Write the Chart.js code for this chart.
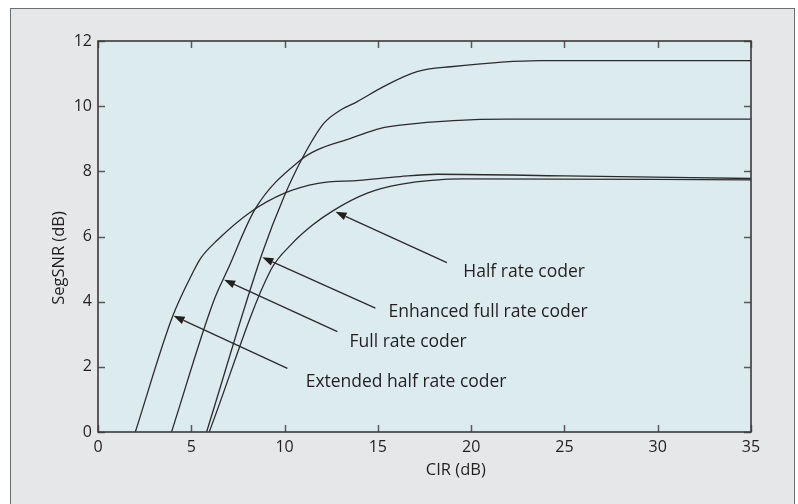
<!DOCTYPE html>
<html>
<head>
<meta charset="utf-8">
<script src="https://cdn.jsdelivr.net/npm/chart.js@4.4.1/dist/chart.umd.min.js"></script>
<style>
  html, body { margin: 0; padding: 0; background: #ffffff; }
  #frame { position: absolute; left: 10px; top: 8px; width: 783px; height: 520px;
           border: 1px solid #6d6e70; background: #e6e7e8; }
  #wrap { position: absolute; left: 0; top: 0; width: 798px; height: 504px; }
</style>
</head>
<body>
<div id="frame"></div>
<div id="wrap"><canvas id="chart"></canvas></div>
<script>
// ------------------ //
//  DATA              //
// ------------------ //

// Axis ticks and titles
const cirTicks = [0, 5, 10, 15, 20, 25, 30, 35];
const snrTicks = [0, 2, 4, 6, 8, 10, 12];
const cirTitle = "CIR (dB)";
const snrTitle = "SegSNR (dB)";

// Extended half rate coder
const extHalfCir = [2.0, 4.0, 5.15, 5.5, 6.4, 8.2, 10.0, 11.8, 14.0, 16.2, 18.2, 25.0, 35.0];
const extHalfSnr = [0.0, 3.55, 4.97, 5.33, 5.89, 6.76, 7.33, 7.63, 7.72, 7.84, 7.91, 7.86, 7.78];

// Full rate coder
const fullCir = [3.94, 6.22, 6.94, 8.45, 10.86, 11.75, 13.54, 15.14, 16.2, 21.9, 35.0];
const fullSnr = [0.0, 4.05, 4.97, 6.87, 8.35, 8.66, 9.01, 9.32, 9.42, 9.6, 9.6];

// Enhanced full rate coder
const enhFullCir = [5.82, 8.81, 9.97, 10.95, 12.1, 13.0, 13.9, 15.3, 17.1, 18.9, 23.7, 35.0];
const enhFullSnr = [0.0, 5.5, 7.22, 8.4, 9.47, 9.88, 10.14, 10.6, 11.06, 11.21, 11.4, 11.4];

// Half rate coder
const halfCir = [5.96, 9.26, 10.4, 11.5, 12.65, 14.43, 16.2, 19.6, 35.0];
const halfSnr = [0.0, 4.97, 5.78, 6.35, 6.81, 7.33, 7.6, 7.77, 7.74];

// Callouts: label text, label anchor (CIR, SegSNR), arrow tail and arrow tip
const noteText = ["Half rate coder", "Enhanced full rate coder", "Full rate coder", "Extended half rate coder"];
const noteAt   = [[19.58, 4.91], [15.57, 3.68], [13.48, 2.76], [11.13, 1.53]];
const noteTail = [[18.7, 5.2], [14.87, 3.8], [12.83, 3.08], [10.15, 1.95]];
const noteTip  = [[12.73, 6.76], [8.81, 5.36], [6.76, 4.67], [4.05, 3.57]];

// ------------------ //
//  HELPER FUNCTIONS  //
// ------------------ //

const inkColor = "#231f20";
const plotFill = "#dcebee";
const fontFamily = "'Open Sans', 'Noto Sans', sans-serif";

// Zips two arrays into {x, y} points
function toPoints(xs, ys) {
  return xs.map(function (v, i) { return { x: v, y: ys[i] }; });
}

// Builds one black curve dataset
function curve(label, xs, ys) {
  return {
    label: label,
    data: toPoints(xs, ys),
    borderColor: "#2b2b2b",
    borderWidth: 1.3,
    pointRadius: 0,
    cubicInterpolationMode: "monotone",
    fill: false
  };
}

// Draws a line with a filled triangle head at the tip
function drawArrow(ctx, x0, y0, x1, y1) {
  var ang = Math.atan2(y1 - y0, x1 - x0);
  var len = 11, half = 4;
  var bx = x1 - len * Math.cos(ang), by = y1 - len * Math.sin(ang);
  ctx.beginPath();
  ctx.moveTo(x0, y0);
  ctx.lineTo(bx, by);
  ctx.stroke();
  ctx.beginPath();
  ctx.moveTo(x1, y1);
  ctx.lineTo(bx + half * Math.sin(ang), by - half * Math.cos(ang));
  ctx.lineTo(bx - half * Math.sin(ang), by + half * Math.cos(ang));
  ctx.closePath();
  ctx.fill();
}

// Plot background, inward ticks, frame, axis titles and callouts
const decorations = {
  id: "decorations",
  beforeDatasetsDraw(chart) {
    const { ctx, chartArea: a } = chart;
    ctx.save();
    ctx.fillStyle = plotFill;
    ctx.fillRect(a.left, a.top, a.right - a.left, a.bottom - a.top);
    ctx.restore();
  },
  afterDatasetsDraw(chart) {
    const { ctx, chartArea: a, scales: { x, y } } = chart;
    const tl = 7;
    ctx.save();

    // tick marks pointing into the plot on all four sides
    ctx.strokeStyle = "#58595b";
    ctx.lineWidth = 1.5;
    ctx.beginPath();
    cirTicks.forEach(function (v) {
      var px = Math.round(x.getPixelForValue(v)) + 0.5;
      ctx.moveTo(px, a.bottom); ctx.lineTo(px, a.bottom - tl);
      ctx.moveTo(px, a.top); ctx.lineTo(px, a.top + tl);
    });
    snrTicks.forEach(function (v) {
      var py = Math.round(y.getPixelForValue(v)) + 0.5;
      ctx.moveTo(a.left, py); ctx.lineTo(a.left + tl, py);
      ctx.moveTo(a.right, py); ctx.lineTo(a.right - tl, py);
    });
    ctx.stroke();

    // plot frame
    ctx.strokeStyle = "#3a3a3a";
    ctx.lineWidth = 1.6;
    ctx.strokeRect(a.left, a.top, a.right - a.left, a.bottom - a.top);

    // callout arrows and labels
    ctx.strokeStyle = "#2b2b2b";
    ctx.fillStyle = "#231f20";
    ctx.lineWidth = 1.3;
    for (var i = 0; i < noteText.length; i++) {
      drawArrow(ctx,
        x.getPixelForValue(noteTail[i][0]), y.getPixelForValue(noteTail[i][1]),
        x.getPixelForValue(noteTip[i][0]), y.getPixelForValue(noteTip[i][1]));
    }
    ctx.fillStyle = inkColor;
    ctx.font = "17.5px " + fontFamily;
    ctx.textAlign = "left";
    ctx.textBaseline = "middle";
    for (var j = 0; j < noteText.length; j++) {
      ctx.fillText(noteText[j], x.getPixelForValue(noteAt[j][0]), y.getPixelForValue(noteAt[j][1]));
    }

    // axis titles (sit a little off-centre in the original)
    ctx.font = "16.5px " + fontFamily;
    ctx.textAlign = "center";
    ctx.fillText(cirTitle, a.left + 0.548 * (a.right - a.left), 470);
    ctx.translate(59, a.top + 0.555 * (a.bottom - a.top));
    ctx.rotate(-Math.PI / 2);
    ctx.fillText(snrTitle, 0, 0);
    ctx.restore();
  }
};

// ----------- //
//  CHART      //
// ----------- //

const ctx = document.getElementById("chart");
new Chart(ctx, {
  type: "line",
  data: {
    datasets: [
      curve("Extended half rate coder", extHalfCir, extHalfSnr),
      curve("Full rate coder", fullCir, fullSnr),
      curve("Enhanced full rate coder", enhFullCir, enhFullSnr),
      curve("Half rate coder", halfCir, halfSnr)
    ]
  },
  options: {
    responsive: true,
    maintainAspectRatio: false,
    animation: false,
    layout: { padding: { left: 0, top: 41, right: 47, bottom: 0 } },
    plugins: {
      legend: { display: false },
      tooltip: { enabled: false }
    },
    scales: {
      x: {
        type: "linear",
        min: 0,
        max: 35,
        afterBuildTicks: function (scale) {
          scale.ticks = cirTicks.map(function (v) { return { value: v }; });
        },
        afterFit: function (scale) { scale.height = 72; },
        grid: { display: false, drawTicks: false },
        border: { display: false },
        ticks: {
          color: inkColor,
          padding: 6,
          maxRotation: 0,
          font: { family: fontFamily, size: 16 }
        }
      },
      y: {
        type: "linear",
        min: 0,
        max: 12,
        afterBuildTicks: function (scale) {
          scale.ticks = snrTicks.map(function (v) { return { value: v }; });
        },
        afterFit: function (scale) { scale.width = 98; },
        grid: { display: false, drawTicks: false },
        border: { display: false },
        ticks: {
          color: inkColor,
          padding: 6,
          font: { family: fontFamily, size: 16 }
        }
      }
    }
  },
  plugins: [decorations]
});
</script>
</body>
</html>
